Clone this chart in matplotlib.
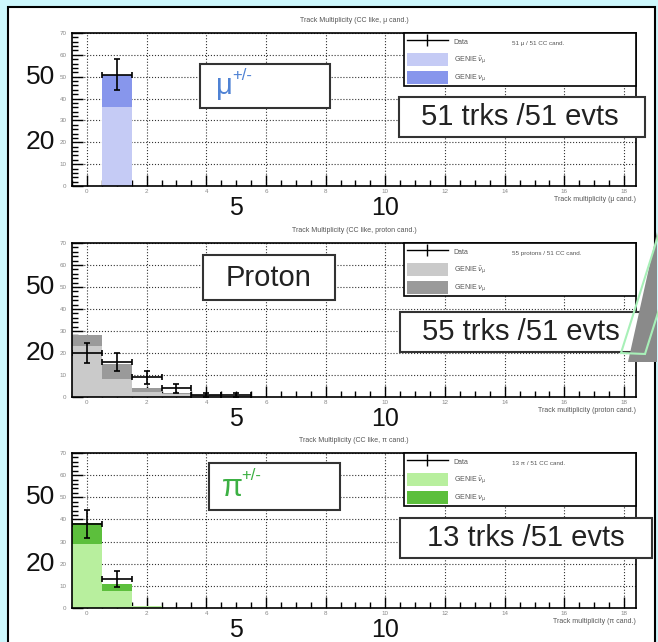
import numpy as np
import matplotlib
matplotlib.use('Agg')
import matplotlib.pyplot as plt
from matplotlib.patches import Rectangle, Polygon
from matplotlib.lines import Line2D
from matplotlib.ticker import MultipleLocator

plt.rcParams['font.family'] = ['Liberation Sans', 'DejaVu Sans']

# muon candidates
mu_bins = [1]
mu_data = [51]
mu_nubar = [36]
mu_nu = [15]

# proton candidates
p_bins = [0, 1, 2, 3, 4, 5]
p_data = [20, 16, 9, 4, 1, 1]
p_nubar = [23, 8, 2.4, 1.4, 0.4, 0.2]
p_nu = [5, 7, 1.6, 0.6, 0.3, 0.1]

# pion candidates
pi_bins = [0, 1, 2]
pi_data = [38, 13, 0]
pi_nubar = [29, 7.7, 0.7]
pi_nu = [9.5, 3.3, 0.4]

x_ticks = np.arange(0, 19, 2)
y_ticks = np.arange(0, 71, 10)
big_x = [5, 10]
big_y = [50, 20]

W, H = 658, 642
fig = plt.figure(figsize=(W / 100, H / 100), dpi=100)
fig.patch.set_facecolor('#ccf7fc')


def px_box(x0, y0, x1, y1, **kw):
    r = Rectangle((x0 / W, 1 - y1 / H), (x1 - x0) / W, (y1 - y0) / H,
                  transform=fig.transFigure, **kw)
    fig.add_artist(r)


def px_text(x, y, s, **kw):
    fig.text(x / W, 1 - y / H, s, **kw)


# white slide
px_box(8, 7, 655, 660, facecolor='white', edgecolor='black', lw=1.5, zorder=-1)

panels = [
    dict(top=33, bottom=186, bins=mu_bins, data=mu_data, nubar=mu_nubar, nu=mu_nu,
         colors=('#c5cbf5', '#8796ec'),
         title='Track Multiplicity (CC like, μ cand.)',
         xlabel='Track multiplicity (μ cand.)',
         legtext='51 μ / 51 CC cand.'),
    dict(top=243, bottom=397, bins=p_bins, data=p_data, nubar=p_nubar, nu=p_nu,
         colors=('#cacaca', '#9a9a9a'),
         title='Track Multiplicity (CC like, proton cand.)',
         xlabel='Track multiplicity (proton cand.)',
         legtext='55 protons / 51 CC cand.'),
    dict(top=453, bottom=608, bins=pi_bins, data=pi_data, nubar=pi_nubar, nu=pi_nu,
         colors=('#b8ef9e', '#5cbf3c'),
         title='Track Multiplicity (CC like, π cand.)',
         xlabel='Track multiplicity (π cand.)',
         legtext='13 π / 51 CC cand.'),
]

for p in panels:
    ax = fig.add_axes([72 / W, 1 - p['bottom'] / H, 564 / W, (p['bottom'] - p['top']) / H])
    c1, c2 = p['colors']
    b1 = ax.bar(p['bins'], p['nubar'], width=1, color=c1, zorder=2)
    b2 = ax.bar(p['bins'], p['nu'], bottom=p['nubar'], width=1, color=c2, zorder=2)
    bins = np.array(p['bins'])
    data = np.array(p['data'], dtype=float)
    m = data > 0
    ax.errorbar(bins[m], data[m], xerr=0.5, yerr=np.sqrt(data[m]), fmt='none',
                ecolor='black', elinewidth=1.2, capsize=2.5, capthick=1.2, zorder=4)

    ax.set_xlim(-0.5, 18.4)
    ax.set_ylim(0, 70)
    ax.set_xticks(x_ticks)
    ax.set_yticks(y_ticks)
    ax.xaxis.set_minor_locator(MultipleLocator(0.5))
    ax.yaxis.set_minor_locator(MultipleLocator(2))
    ax.tick_params(which='both', direction='in', labelsize=4.5, labelcolor='#888', pad=4)
    ax.tick_params(axis='x', which='both', pad=2)
    ax.tick_params(which='major', length=8, width=1)
    ax.tick_params(which='minor', length=4, width=1)
    ax.set_axisbelow(True)
    ax.grid(True, which='major', ls=':', color='#333', lw=0.8)
    for s in ax.spines.values():
        s.set_linewidth(1.2)

    ax.set_title(p['title'], fontsize=5, color='#555', pad=8)
    ax.text(1.0, -0.09, p['xlabel'], transform=ax.transAxes, ha='right', va='center',
            fontsize=5, color='#555')

    for v in big_y:
        ax.text(-0.03, v, str(v), transform=ax.get_yaxis_transform(), ha='right',
                va='center', fontsize=19, color='#111')
    for v in big_x:
        ax.text(v, -0.145, str(v), transform=ax.get_xaxis_transform(), ha='center',
                va='center', fontsize=18, color='#111')

    data_handle = Line2D([], [], color='black', lw=1, marker='|', markersize=9,
                         markeredgewidth=1)
    leg = ax.legend([data_handle, b1, b2],
                    ['Data', r'GENIE $\bar{\nu}_\mu$', r'GENIE $\nu_\mu$'],
                    loc='upper left', bbox_to_anchor=(0.589, 0, 0.411, 1), mode='expand',
                    borderaxespad=0, fontsize=5, handlelength=6, handleheight=2.4,
                    labelspacing=0.75, borderpad=0.35, fancybox=False, edgecolor='black',
                    framealpha=1)
    leg.get_frame().set_linewidth(1.2)
    leg.set_zorder(5)
    for t in leg.get_texts():
        t.set_color('#555')
    ax.text(0.78, 0.93, p['legtext'], transform=ax.transAxes, fontsize=4.5,
            color='#555', va='center', zorder=6)

box_kw = dict(facecolor='white', edgecolor='#333', lw=1.5, zorder=10)
txt_kw = dict(ha='center', va='center', zorder=11, color='#222')

# muon panel labels
px_box(200, 64, 330, 108, **box_kw)
px_text(216, 86, 'μ', fontsize=21, color='#4f82d4', va='center', zorder=11)
px_text(232, 76, '+/-', fontsize=12, color='#4f82d4', va='center', zorder=11)
px_box(399, 97, 645, 137, **box_kw)
px_text(520, 117, '51 trks /51 evts', fontsize=21, **txt_kw)

# proton panel labels
px_box(203, 255, 335, 300, **box_kw)
px_text(269, 278, 'Proton', fontsize=21, **txt_kw)
px_box(400, 312, 643, 352, **box_kw)
px_text(521, 332, '55 trks /51 evts', fontsize=21, **txt_kw)

# pion panel labels
px_box(209, 463, 340, 510, **box_kw)
px_text(222, 488, 'π', fontsize=22, color='#3cb043', va='center', zorder=11)
px_text(241, 476, '+/-', fontsize=12, color='#3cb043', va='center', zorder=11)
px_box(400, 518, 652, 558, **box_kw)
px_text(526, 538, '13 trks /51 evts', fontsize=21, **txt_kw)


# decorative shape at the right of the proton panel
def px_poly(pts, **kw):
    fig.add_artist(Polygon([(x / W, 1 - y / H) for x, y in pts], closed=True,
                           transform=fig.transFigure, **kw))


px_poly([(657, 232), (628, 362), (657, 362)], facecolor='#8a8a8a', edgecolor='none',
        zorder=12)
px_poly([(660, 230), (621, 353), (645, 354), (684, 230)], facecolor='none',
        edgecolor='#a8f0b8', lw=1.5, zorder=13)

fig.savefig('out.png', dpi=100, facecolor=fig.get_facecolor())
